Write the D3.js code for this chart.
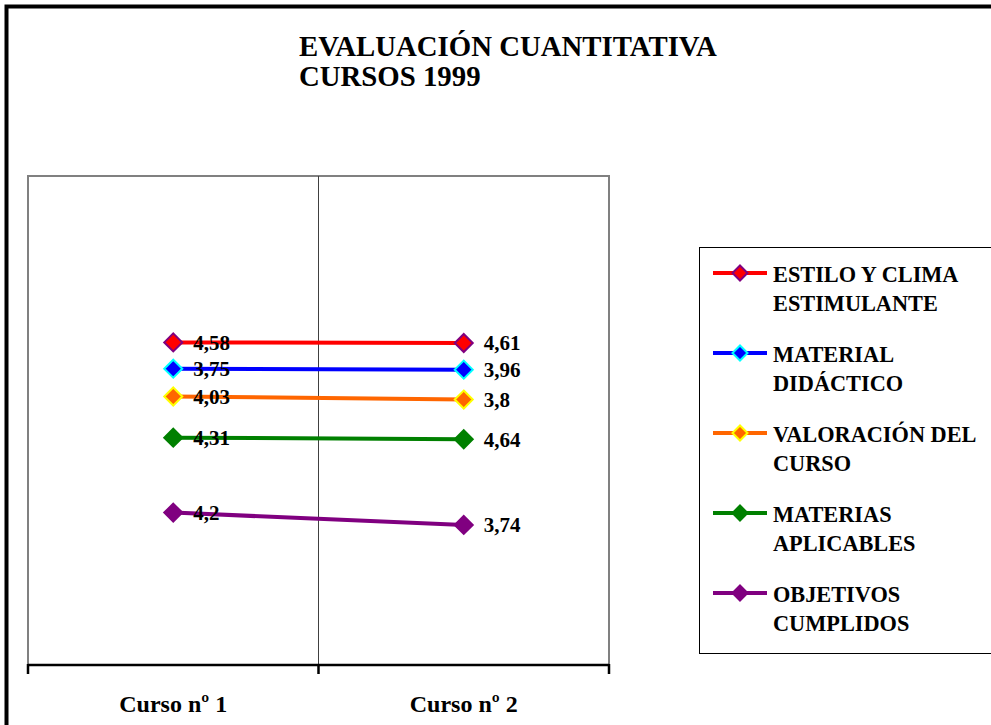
<!DOCTYPE html>
<html>
<head>
<meta charset="utf-8">
<script src="https://cdn.jsdelivr.net/npm/d3@7"></script>
<style>
  html, body { margin: 0; padding: 0; background: #fff; overflow: hidden; }
  svg { display: block; }
</style>
</head>
<body>
<svg id="chart" width="991" height="725"></svg>
<script>
// Course evaluation data (scores per course)
const categories = ["Curso nº 1", "Curso nº 2"];
const seriesNames = [
  ["ESTILO Y CLIMA", "ESTIMULANTE"],
  ["MATERIAL", "DIDÁCTICO"],
  ["VALORACIÓN DEL", "CURSO"],
  ["MATERIAS", "APLICABLES"],
  ["OBJETIVOS", "CUMPLIDOS"]
];
const estilo = [4.58, 4.61];
const material = [3.75, 3.96];
const valoracion = [4.03, 3.8];
const materias = [4.31, 4.64];
const objetivos = [4.2, 3.74];
const titleLines = ["EVALUACIÓN CUANTITATIVA", "CURSOS 1999"];

const seriesValues = [estilo, material, valoracion, materias, objetivos];
const lineColors = ["#ff0000", "#0000ff", "#ff6600", "#008000", "#800080"];
const markerStroke = ["#800080", "#00ffff", "#ffff00", "#008000", "#800080"];

const FONT = "'Liberation Serif', 'Times New Roman', Tinos, serif";
const txt = sel => sel.attr("font-family", FONT).attr("font-weight", "bold").attr("fill", "#000");

const svg = d3.select("#chart");

// outer chart frame
svg.append("rect")
  .attr("x", 6.5).attr("y", 6.5).attr("width", 1100).attr("height", 1100)
  .attr("fill", "none").attr("stroke", "#000").attr("stroke-width", 4);

// title (slightly condensed lettering)
svg.append("g")
  .attr("transform", "translate(299,0) scale(0.96,1)")
  .selectAll("text").data(titleLines).join("text")
  .call(txt)
  .attr("x", 0).attr("y", (d, i) => 56 + i * 30)
  .attr("font-size", 30)
  .text(d => d);

// plot area
const plot = { left: 28, right: 609, top: 176, bottom: 665 };

const x = d3.scaleBand().domain(categories).range([plot.left, plot.right]);
const y = d3.scaleLog().domain([1, 100]).range([plot.bottom, plot.top]);

// stacked table: bottom layer is the last legend entry
const table = categories.map((c, i) => {
  const row = { cat: c };
  seriesValues.forEach((vals, s) => { row["s" + s] = vals[i]; });
  return row;
});
const keys = seriesValues.map((_, s) => "s" + s).reverse();
const stacked = d3.stack().keys(keys)(table);
const layerOf = s => stacked.find(l => l.key === "s" + s);

// plot border
svg.append("rect")
  .attr("x", plot.left).attr("y", plot.top)
  .attr("width", plot.right - plot.left).attr("height", plot.bottom - plot.top)
  .attr("fill", "#fff").attr("stroke", "#808080").attr("stroke-width", 2);

// category gridline between the two courses
svg.append("line")
  .attr("x1", x(categories[1])).attr("x2", x(categories[1]))
  .attr("y1", plot.top).attr("y2", plot.bottom)
  .attr("stroke", "#404040").attr("stroke-width", 1);

// category axis
const axisG = svg.append("g").attr("transform", `translate(0,${plot.bottom})`);
axisG.append("line")
  .attr("x1", plot.left).attr("x2", plot.right)
  .attr("stroke", "#000").attr("stroke-width", 2.5);
const tickXs = categories.map(c => x(c)).concat([x(categories[categories.length - 1]) + x.bandwidth()]);
axisG.selectAll("line.tick").data(tickXs).join("line")
  .attr("class", "tick")
  .attr("x1", d => d).attr("x2", d => d)
  .attr("y1", -1).attr("y2", 9)
  .attr("stroke", "#000").attr("stroke-width", 2.5);
axisG.selectAll("text").data(categories).join("text")
  .call(txt)
  .attr("x", d => x(d) + x.bandwidth() / 2)
  .attr("y", 47)
  .attr("text-anchor", "middle")
  .attr("font-size", 24)
  .text(d => d);

const cx = c => x(c) + x.bandwidth() / 2;
const diamond = r => `M0,${-r}L${r},0L0,${r}L${-r},0Z`;

// series lines and markers (bottom layer first)
const drawOrder = d3.range(seriesValues.length).reverse();
const line = d3.line().x(d => cx(d.data.cat)).y(d => y(d[1]));
drawOrder.forEach(s => {
  const layer = layerOf(s);
  const g = svg.append("g");
  g.append("path")
    .attr("d", line(layer))
    .attr("fill", "none").attr("stroke", lineColors[s]).attr("stroke-width", 4);
  g.selectAll("path.m").data(layer).join("path")
    .attr("class", "m")
    .attr("transform", d => `translate(${cx(d.data.cat)},${y(d[1])})`)
    .attr("d", diamond(9))
    .attr("fill", lineColors[s]).attr("stroke", markerStroke[s]).attr("stroke-width", 2);
});
// value labels
drawOrder.forEach(s => {
  const layer = layerOf(s);
  svg.append("g").selectAll("text").data(layer).join("text")
    .call(txt)
    .attr("x", d => cx(d.data.cat) + 20)
    .attr("y", d => y(d[1]) + 7.5)
    .attr("font-size", 21)
    .text((d, i) => String(seriesValues[s][i]).replace(".", ","));
});

// legend
const legend = svg.append("g");
legend.append("rect")
  .attr("x", 699.5).attr("y", 247.5).attr("width", 400).attr("height", 406)
  .attr("fill", "#fff").attr("stroke", "#000").attr("stroke-width", 1);
seriesNames.forEach((name, s) => {
  const ry = 273 + s * 80;
  const item = legend.append("g");
  item.append("line")
    .attr("x1", 713).attr("x2", 767).attr("y1", ry).attr("y2", ry)
    .attr("stroke", lineColors[s]).attr("stroke-width", 4);
  item.append("path")
    .attr("transform", `translate(740,${ry})`)
    .attr("d", diamond(7.5))
    .attr("fill", lineColors[s]).attr("stroke", markerStroke[s]).attr("stroke-width", 2);
  item.append("g")
    .attr("transform", `translate(773,${ry}) scale(0.93,1)`)
    .selectAll("text").data(name).join("text")
    .call(txt)
    .attr("x", 0).attr("y", (d, i) => 9 + i * 29.5)
    .attr("font-size", 24)
    .text(d => d);
});
</script>
</body>
</html>
